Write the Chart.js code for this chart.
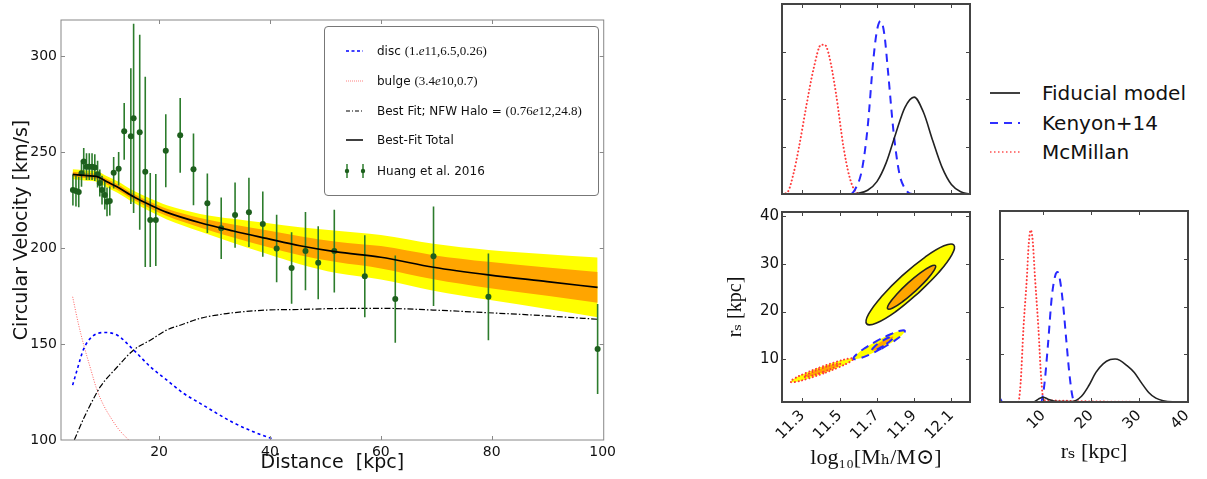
<!DOCTYPE html>
<html>
<head>
<meta charset="utf-8">
<title>Rotation curve fit</title>
<script src="https://cdn.jsdelivr.net/npm/chart.js@4.4.1/dist/chart.umd.min.js"></script>
<style>
  html, body { margin: 0; padding: 0; background: #fff; }
  body { position: relative; width: 1207px; height: 479px; overflow: hidden; font-family: 'DejaVu Sans', sans-serif; color: #111; }
  canvas { position: absolute; }
  svg { position: absolute; overflow: visible; }
  .legend-box { position: absolute; left: 324px; top: 26px; width: 273px; height: 168px; border: 1px solid #777; border-radius: 4px; background: rgba(255,255,255,0.9); }
  .legend-row { position: absolute; left: 52px; font-size: 12px; line-height: 14px; white-space: nowrap; }
  .math { font-family: 'Liberation Serif', 'DejaVu Serif', serif; font-size: 13px; }
  .key { position: absolute; left: 1042px; font-size: 20px; line-height: 24px; white-space: nowrap; }
</style>
</head>
<body>
<canvas id="curve" width="620" height="479" style="left:0;top:0"></canvas>
<canvas id="massPdf" width="240" height="200" style="left:740px;top:0"></canvas>
<canvas id="joint" width="290" height="279" style="left:690px;top:200px"></canvas>
<canvas id="rsPdf" width="247" height="279" style="left:960px;top:200px"></canvas>

<div class="legend-box">
  <svg width="60" height="168" style="left:0;top:0">
    <line x1="21" y1="24" x2="38" y2="24" stroke="#0000ff" stroke-width="1.5" stroke-dasharray="3 2.5"/>
    <line x1="21" y1="54" x2="38" y2="54" stroke="#ff8080" stroke-width="1" stroke-dasharray="1 1"/>
    <line x1="21" y1="84" x2="38" y2="84" stroke="#000" stroke-width="1.2" stroke-dasharray="4 2 1 2"/>
    <line x1="21" y1="113" x2="38" y2="113" stroke="#000" stroke-width="1.5"/>
    <line x1="22" y1="137" x2="22" y2="151" stroke="#2c7c2c" stroke-width="1.5"/>
    <circle cx="22" cy="144" r="2.2" fill="#1d5f1d"/>
    <line x1="38" y1="137" x2="38" y2="151" stroke="#2c7c2c" stroke-width="1.5"/>
    <circle cx="38" cy="144" r="2.2" fill="#1d5f1d"/>
  </svg>
  <div class="legend-row" style="top:17px">disc <span class="math">(1.<i>e</i>11,6.5,0.26)</span></div>
  <div class="legend-row" style="top:47px">bulge <span class="math">(3.4<i>e</i>10,0.7)</span></div>
  <div class="legend-row" style="top:77px">Best Fit; NFW Halo = <span class="math">(0.76<i>e</i>12,24.8)</span></div>
  <div class="legend-row" style="top:106px">Best-Fit Total</div>
  <div class="legend-row" style="top:137px">Huang et al. 2016</div>
</div>

<svg width="40" height="90" style="left:985px;top:80px">
  <line x1="5" y1="13" x2="35" y2="13" stroke="#111" stroke-width="1.6"/>
  <line x1="5" y1="43" x2="35" y2="43" stroke="#3030ff" stroke-width="2" stroke-dasharray="8 6"/>
  <line x1="5" y1="72" x2="35" y2="72" stroke="#ff5050" stroke-width="1.5" stroke-dasharray="1.5 2.5"/>
</svg>
<div class="key" style="top:81px">Fiducial model</div>
<div class="key" style="top:111px">Kenyon+14</div>
<div class="key" style="top:140px">McMillan</div>

<script>
// ---- rotation curve: Huang et al. 2016 measurements
const huangR = [4.45, 5.0, 5.5, 6.0, 6.4, 6.9, 7.4, 7.9, 8.4, 8.9, 9.3, 9.7, 10.2, 10.6, 11.1, 11.8, 12.7, 13.7, 14.9, 15.4, 16.5, 17.5, 18.4, 19.4, 21.2, 23.8, 26.2, 28.7, 31.2, 33.7, 36.2, 38.7, 41.2, 43.9, 46.4, 48.7, 51.6, 57.1, 62.6, 69.5, 79.4, 99.1];
const huangV = [230.2, 229.7, 229.2, 238.9, 245.1, 242.4, 242.4, 242.4, 241.9, 238.5, 233.9, 230.2, 227.6, 224.1, 224.5, 239.2, 241.3, 260.8, 258.3, 267.6, 260.3, 239.7, 214.6, 214.6, 250.7, 258.7, 241.0, 223.3, 210.3, 217.2, 218.6, 212.5, 199.8, 189.6, 198.4, 192.3, 198.4, 185.3, 173.4, 195.7, 174.6, 147.4];
const huangErr = [8, 8, 8, 7, 7, 7, 7, 7, 7, 7, 7, 7.5, 7.5, 7.5, 7.5, 8.2, 8.7, 14.8, 35.4, 49.3, 50.8, 49.6, 24.5, 24, 19, 19.5, 18.7, 15.5, 16, 17, 18, 17, 17.6, 18.6, 20.4, 19, 21.5, 21.4, 22.7, 25.9, 22.6, 23.4];

// ---- best-fit total and its 1/2 sigma half widths
const modelR = [4.4, 7, 8.8, 10.6, 12.4, 15.4, 18.4, 21.4, 27.4, 33.4, 39.4, 45.4, 52, 60, 69.5, 79.4, 90, 99.1];
const totalV = [238.4, 237.7, 237.2, 234.5, 231.9, 226.7, 222.4, 218.6, 213.2, 208.9, 205.0, 201.2, 198.0, 195.2, 190.0, 186.0, 182.5, 179.5];
const sigma1 = [1.3, 1.35, 1.4, 1.45, 1.5, 1.6, 1.75, 1.9, 2.5, 3.4, 4.3, 4.9, 5.3, 5.8, 6.3, 6.8, 7.4, 8.0];
const sigma2 = [2.6, 2.7, 2.8, 2.9, 3.0, 3.1, 3.4, 3.7, 4.6, 6.3, 8.0, 9.6, 11.0, 11.6, 12.2, 13.0, 14.3, 15.6];

// ---- components
const discR = [4.4, 5.2, 6.4, 7.9, 10, 12.4, 15.4, 18.4, 21.4, 24.4, 27.4, 30.4, 33.4, 37, 40.6];
const discV = [128.6, 136.5, 147.5, 153.8, 156.0, 154.7, 146.9, 138.2, 131.2, 124.3, 119.1, 113.9, 109.0, 104.3, 100.4];
const bulgeR = [4.4, 5.4, 6.4, 7.6, 8.8, 10, 11.2, 12.7, 14.5];
const bulgeV = [174.6, 161.0, 149.5, 137.5, 126.0, 118.0, 112.0, 105.6, 100.0];
const haloR = [4.7, 6.4, 8.2, 9.4, 12.4, 15.4, 18.4, 21.4, 24.4, 27.4, 30.4, 33.4, 39.4, 45.4, 52, 60, 69.4, 79.4, 87.4, 99.1];
const haloV = [100, 111.3, 121.7, 127.8, 137.9, 146.9, 152.0, 157.3, 160.4, 163.4, 165.1, 166.3, 167.7, 168.0, 168.5, 168.6, 167.7, 166.3, 165.1, 162.9];

const distTicks = [20, 40, 60, 80, 100];
const velTicks = [100, 150, 200, 250, 300];

// ---- marginal of log10 Mh (normalised heights)
const mhFidX = [11.19, 11.55, 11.60, 11.65, 11.70, 11.75, 11.80, 11.85, 11.90, 11.95, 12.00, 12.05, 12.10, 12.15, 12.20];
const mhFidY = [0, 0, 0.004, 0.02, 0.065, 0.165, 0.315, 0.455, 0.51, 0.43, 0.28, 0.14, 0.05, 0.012, 0];
const mhKenX = [11.19, 11.55, 11.58, 11.62, 11.65, 11.68, 11.70, 11.72, 11.74, 11.76, 11.79, 11.82, 11.85, 11.89, 12.20];
const mhKenY = [0, 0, 0.02, 0.13, 0.35, 0.70, 0.86, 0.91, 0.84, 0.64, 0.32, 0.11, 0.03, 0, 0];
const mhMcmX = [11.19, 11.22, 11.25, 11.28, 11.32, 11.36, 11.40, 11.42, 11.44, 11.48, 11.52, 11.55, 11.58, 11.62, 12.20];
const mhMcmY = [0, 0.01, 0.1, 0.24, 0.46, 0.66, 0.785, 0.785, 0.74, 0.53, 0.25, 0.1, 0.02, 0, 0];
const mhTicks = [11.3, 11.5, 11.7, 11.9, 12.1];

// ---- marginal of r_s
const rsFidX = [1, 8, 9, 10, 11, 12.5, 16, 18, 19.5, 21, 22.5, 24, 25, 26, 27.5, 29, 30.5, 32, 33.5, 35, 37, 40.2];
const rsFidY = [0, 0, 0.015, 0.025, 0.015, 0.004, 0.002, 0.03, 0.085, 0.155, 0.2, 0.222, 0.225, 0.218, 0.19, 0.155, 0.1, 0.05, 0.02, 0.007, 0.001, 0];
const rsKenX = [1, 1.5, 9.5, 10.2, 11, 11.8, 12.5, 13, 13.5, 14.2, 14.8, 15.5, 16.1, 16.5, 40.2];
const rsKenY = [0.02, 0, 0, 0.08, 0.3, 0.55, 0.66, 0.68, 0.64, 0.5, 0.33, 0.14, 0.03, 0, 0];
const rsMcmX = [1, 4.8, 5.3, 5.9, 6.6, 7.0, 7.4, 7.8, 8.3, 9.0, 9.6, 10.1, 40.2];
const rsMcmY = [0, 0, 0.1, 0.39, 0.65, 0.83, 0.9, 0.85, 0.65, 0.39, 0.12, 0.01, 0];
const rsTicks = [10, 20, 30, 40];

// ---- joint (log10 Mh, r_s) contours, 2 sigma outer and 1 sigma inner
const fidOuterMh = [11.922, 11.800, 11.698, 11.645, 11.655, 11.725, 11.836, 11.959, 12.060, 12.113, 12.103, 12.033, 11.922];
const fidOuterRs = [23.84, 19.96, 17.61, 17.42, 19.44, 23.13, 27.50, 31.38, 33.73, 33.92, 31.90, 28.21, 23.84];
const fidInnerMh = [11.906, 11.839, 11.785, 11.758, 11.765, 11.805, 11.866, 11.933, 11.987, 12.014, 12.007, 11.967, 11.906];
const fidInnerRs = [24.25, 22.10, 20.76, 20.57, 21.60, 23.56, 25.93, 28.08, 29.42, 29.61, 28.59, 26.62, 24.25];
const kenOuterMh = [11.724, 11.653, 11.598, 11.574, 11.587, 11.633, 11.700, 11.771, 11.826, 11.850, 11.837, 11.791, 11.724];
const kenOuterRs = [12.24, 10.89, 10.12, 10.13, 10.93, 12.30, 13.86, 15.21, 15.98, 15.97, 15.17, 13.80, 12.24];
const kenInnerMh = [11.736, 11.694, 11.672, 11.685, 11.724, 11.767, 11.788, 11.776, 11.736];
const kenInnerRs = [12.85, 11.96, 11.86, 12.60, 13.75, 14.64, 14.74, 14.00, 12.85];
const mcmOuterMh = [11.412, 11.326, 11.262, 11.236, 11.255, 11.315, 11.399, 11.484, 11.548, 11.574, 11.555, 11.495, 11.412];
const mcmOuterRs = [7.05, 5.94, 5.30, 5.32, 5.98, 7.11, 8.41, 9.52, 10.16, 10.14, 9.48, 8.35, 7.05];
const mcmInnerMh = [11.409, 11.338, 11.307, 11.333, 11.401, 11.472, 11.503, 11.477, 11.409];
const mcmInnerRs = [7.34, 6.48, 6.35, 7.03, 8.12, 8.98, 9.11, 8.43, 7.34];
const rsAxisTicks = [10, 20, 30, 40];

Chart.defaults.font.family = "'DejaVu Sans', sans-serif";
Chart.defaults.color = '#111';
Chart.defaults.animation = false;

const pts = (xs, ys) => xs.map((x, i) => ({ x: x, y: ys[i] }));
const fixWidth = w => scale => { scale.width = w; };
const fixHeight = h => scale => { scale.height = h; };
const setTicks = values => scale => { scale.ticks = values.map(v => ({ value: v })); };

// box around the plot area with small inward ticks, matplotlib style
const framePlugin = {
  id: 'frame',
  afterDatasetsDraw(chart, args, opts) {
    const { ctx, chartArea: a } = chart;
    const sx = chart.scales.x, sy = chart.scales.y;
    ctx.save();
    ctx.strokeStyle = opts.color;
    ctx.lineWidth = 1;
    ctx.beginPath();
    sx.ticks.forEach(t => {
      const p = Math.round(sx.getPixelForValue(t.value)) + 0.5;
      if (p <= a.left + 1 || p >= a.right - 1) return;
      ctx.moveTo(p, a.bottom); ctx.lineTo(p, a.bottom - opts.tick);
      ctx.moveTo(p, a.top); ctx.lineTo(p, a.top + opts.tick);
    });
    sy.ticks.forEach(t => {
      const p = Math.round(sy.getPixelForValue(t.value)) + 0.5;
      if (p <= a.top + 1 || p >= a.bottom - 1) return;
      ctx.moveTo(a.left, p); ctx.lineTo(a.left + opts.tick, p);
      ctx.moveTo(a.right, p); ctx.lineTo(a.right - opts.tick, p);
    });
    ctx.stroke();
    ctx.lineWidth = opts.width;
    ctx.strokeRect(a.left, a.top, a.right - a.left, a.bottom - a.top);
    ctx.restore();
  }
};

const baseOptions = (padding, frame) => ({
  responsive: false,
  devicePixelRatio: 1,
  events: [],
  layout: { padding: padding },
  elements: { point: { radius: 0 } },
  plugins: { legend: { display: false }, tooltip: { enabled: false }, frame: frame }
});

// ---------------- rotation curve
const errorSegments = [];
huangR.forEach((r, i) => {
  errorSegments.push({ x: r, y: huangV[i] - huangErr[i] }, { x: r, y: huangV[i] + huangErr[i] }, { x: r, y: null });
});
const band = (half, sign) => pts(modelR, totalV.map((v, i) => v + sign * half[i]));
const none = 'rgba(0,0,0,0)';

const curveOptions = baseOptions({ top: 20, right: 16, left: 0, bottom: 0 }, { color: '#888', width: 1, tick: 4 });
curveOptions.scales = {
  x: {
    type: 'linear', min: 2.3, max: 100.2,
    afterBuildTicks: setTicks(distTicks), afterFit: fixHeight(39),
    grid: { display: false, drawTicks: false }, border: { display: false },
    ticks: { font: { size: 14 }, padding: 4, maxRotation: 0, autoSkip: false },
    title: { display: true, text: 'Distance  [kpc]', font: { size: 19 }, padding: { top: 0, bottom: 5 } }
  },
  y: {
    type: 'linear', min: 100, max: 318.8,
    afterBuildTicks: setTicks(velTicks), afterFit: fixWidth(61),
    grid: { display: false, drawTicks: false }, border: { display: false },
    ticks: { font: { size: 14 }, padding: 4, autoSkip: false },
    title: { display: true, text: 'Circular Velocity [km/s]', font: { size: 19 }, padding: { top: 11, bottom: 0 } }
  }
};

new Chart(document.getElementById('curve'), {
  type: 'line',
  data: {
    datasets: [
      { label: 'Best-Fit Total', data: pts(modelR, totalV), borderColor: '#000', borderWidth: 1.7, cubicInterpolationMode: 'monotone', order: 0 },
      { label: 'Huang et al. 2016', data: pts(huangR, huangV), showLine: false, pointRadius: 3, pointBackgroundColor: '#1d5f1d', pointBorderWidth: 0, order: 1 },
      { label: 'Huang errors', data: errorSegments, borderColor: '#2c7c2c', borderWidth: 1.6, spanGaps: false, order: 2 },
      { label: 'NFW Halo', data: pts(haloR, haloV), borderColor: '#000', borderWidth: 1.2, borderDash: [6, 2, 1.5, 2], cubicInterpolationMode: 'monotone', order: 3 },
      { label: 'disc', data: pts(discR, discV), borderColor: '#0000ff', borderWidth: 1.6, borderDash: [3, 3], cubicInterpolationMode: 'monotone', order: 3 },
      { label: 'bulge', data: pts(bulgeR, bulgeV), borderColor: '#ff6060', borderWidth: 1, borderDash: [1, 1.5], cubicInterpolationMode: 'monotone', order: 3 },
      { label: '1 sigma hi', data: band(sigma1, 1), fill: '+1', backgroundColor: '#ffa500', borderColor: none, borderWidth: 0, cubicInterpolationMode: 'monotone', order: 8 },
      { label: '1 sigma lo', data: band(sigma1, -1), borderColor: none, borderWidth: 0, cubicInterpolationMode: 'monotone', order: 8 },
      { label: '2 sigma hi', data: band(sigma2, 1), fill: '+1', backgroundColor: '#ffff00', borderColor: none, borderWidth: 0, cubicInterpolationMode: 'monotone', order: 9 },
      { label: '2 sigma lo', data: band(sigma2, -1), borderColor: none, borderWidth: 0, cubicInterpolationMode: 'monotone', order: 9 }
    ]
  },
  options: curveOptions,
  plugins: [framePlugin]
});

// ---------------- right panels
const fidStyle = { borderColor: '#222', borderWidth: 1.6 };
const kenStyle = { borderColor: '#2828ff', borderWidth: 2, borderDash: [8, 6] };
const mcmStyle = { borderColor: '#ff3a3a', borderWidth: 2, borderDash: [0.1, 3.6], borderCapStyle: 'round' };
const pdfLine = (xs, ys, style) => Object.assign({ data: pts(xs, ys), cubicInterpolationMode: 'monotone' }, style);
const hiddenAxis = (min, max, values, size, horizontal) => ({
  type: 'linear', min: min, max: max,
  afterBuildTicks: setTicks(values),
  afterFit: horizontal ? fixHeight(size) : fixWidth(size),
  grid: { display: false, drawTicks: false }, border: { display: false },
  ticks: { display: false }
});
const rightFrame = { color: '#444', width: 2, tick: 4 };

// marginal log10 Mh
const massOptions = baseOptions({ top: 4, right: 10, left: 0, bottom: 0 }, rightFrame);
massOptions.scales = {
  x: hiddenAxis(11.19, 12.2, mhTicks, 6, true),
  y: hiddenAxis(0, 1, [0.25, 0.5, 0.75], 42, false)
};
new Chart(document.getElementById('massPdf'), {
  type: 'line',
  data: {
    datasets: [
      pdfLine(mhFidX, mhFidY, fidStyle),
      pdfLine(mhKenX, mhKenY, kenStyle),
      pdfLine(mhMcmX, mhMcmY, mcmStyle)
    ]
  },
  options: massOptions,
  plugins: [framePlugin]
});

// joint contours
const contour = (mh, rs, fillColor, style, order) => Object.assign({
  data: pts(mh, rs), fill: 'shape', backgroundColor: fillColor, tension: 0.4, order: order
}, style);
const jointOptions = baseOptions({ top: 10, right: 10, left: 0, bottom: 0 }, rightFrame);
jointOptions.scales = {
  x: {
    type: 'linear', min: 11.19, max: 12.2,
    afterBuildTicks: setTicks(mhTicks), afterFit: fixHeight(77),
    grid: { display: false, drawTicks: false }, border: { display: false },
    ticks: { font: { size: 15 }, padding: 5, minRotation: 45, maxRotation: 45, autoSkip: false, callback: v => Number(v).toFixed(1) },
    title: { display: true, text: 'log₁₀[Mₕ/M⊙]', font: { family: "'Liberation Serif', 'DejaVu Serif', serif", size: 22 }, padding: { top: 0, bottom: 8 } }
  },
  y: {
    type: 'linear', min: 1.1, max: 40.8,
    afterBuildTicks: setTicks(rsAxisTicks), afterFit: fixWidth(92),
    grid: { display: false, drawTicks: false }, border: { display: false },
    ticks: { font: { size: 15 }, padding: 3, autoSkip: false },
    title: { display: true, text: 'rₛ [kpc]', font: { family: "'Liberation Serif', 'DejaVu Serif', serif", size: 20 }, padding: { top: 34, bottom: 0 } }
  }
};
new Chart(document.getElementById('joint'), {
  type: 'line',
  data: {
    datasets: [
      contour(fidInnerMh, fidInnerRs, '#ffa500', fidStyle, 0),
      contour(fidOuterMh, fidOuterRs, '#ffff00', fidStyle, 1),
      contour(kenInnerMh, kenInnerRs, '#ffa500', kenStyle, 2),
      contour(kenOuterMh, kenOuterRs, '#ffff00', kenStyle, 3),
      contour(mcmInnerMh, mcmInnerRs, '#ffa500', mcmStyle, 4),
      contour(mcmOuterMh, mcmOuterRs, '#ffff00', mcmStyle, 5)
    ]
  },
  options: jointOptions,
  plugins: [framePlugin]
});

// marginal r_s
const rsOptions = baseOptions({ top: 11, right: 19, left: 0, bottom: 0 }, rightFrame);
rsOptions.scales = {
  x: {
    type: 'linear', min: 1, max: 40.2,
    afterBuildTicks: setTicks(rsTicks), afterFit: fixHeight(77),
    grid: { display: false, drawTicks: false }, border: { display: false },
    ticks: { font: { size: 15 }, padding: 5, minRotation: 45, maxRotation: 45, autoSkip: false },
    title: { display: true, text: 'rₛ [kpc]', font: { family: "'Liberation Serif', 'DejaVu Serif', serif", size: 22 }, padding: { top: 0, bottom: 14 } }
  },
  y: hiddenAxis(0, 1, [0.25, 0.5, 0.75], 40, false)
};
new Chart(document.getElementById('rsPdf'), {
  type: 'line',
  data: {
    datasets: [
      pdfLine(rsFidX, rsFidY, fidStyle),
      pdfLine(rsKenX, rsKenY, kenStyle),
      pdfLine(rsMcmX, rsMcmY, mcmStyle)
    ]
  },
  options: rsOptions,
  plugins: [framePlugin]
});
</script>
</body>
</html>
